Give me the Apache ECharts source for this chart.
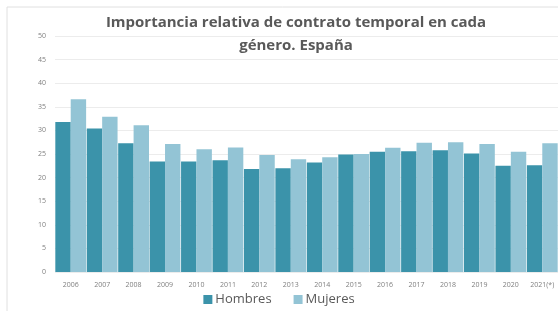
<!DOCTYPE html>
<html>
<head>
<meta charset="utf-8">
<script src="https://cdn.jsdelivr.net/npm/echarts@6/dist/echarts.min.js"></script>
<style>
  html, body { margin: 0; padding: 0; background: #fff; }
  #chart { width: 558px; height: 311px; }
</style>
</head>
<body>
<div id="chart"></div>
<script>
  // datos
  const years = ['2006', '2007', '2008', '2009', '2010', '2011', '2012', '2013',
    '2014', '2015', '2016', '2017', '2018', '2019', '2020', '2021(*)']
  const hombres = [31.8, 30.4, 27.3, 23.4, 23.4, 23.7, 21.8, 22.0,
    23.2, 24.9, 25.5, 25.6, 25.8, 25.1, 22.5, 22.6]
  const mujeres = [36.6, 32.9, 31.1, 27.1, 26.0, 26.4, 24.8, 23.9,
    24.3, 25.0, 26.3, 27.4, 27.5, 27.1, 25.5, 27.3]

  const chart = echarts.init(document.getElementById('chart'))
  const option = {
    animation: false,
    title: {
      text: 'Importancia relativa de contrato temporal en cada\ngénero. España',
      left: 291,
      top: 6,
      textAlign: 'center',
      textStyle: {
        fontFamily: 'Open Sans',
        fontSize: 15,
        fontWeight: 'bold',
        color: '#595959',
        lineHeight: 23
      }
    },
    graphic: [{
      type: 'polyline',
      shape: { points: [[7, 311], [7, 7], [558, 7]] },
      style: { stroke: '#e0e0e0', lineWidth: 1, fill: null }
    }],
    legend: {
      data: ['Hombres', 'Mujeres'],
      bottom: 0,
      left: 'center',
      itemWidth: 9,
      itemHeight: 9,
      itemGap: 22,
      icon: 'rect',
      textStyle: { fontFamily: 'Open Sans', fontSize: 13, color: '#595959', padding: [0, 0, 0, -2] }
    },
    grid: { left: 55, top: 36, width: 507, height: 236 },
    xAxis: {
      type: 'category',
      data: years,
      axisLine: { show: false },
      axisTick: { show: false },
      axisLabel: { fontFamily: 'Open Sans', fontSize: 7, color: '#7f7f7f', margin: 9 }
    },
    yAxis: {
      type: 'value',
      min: 0,
      max: 50,
      interval: 5,
      axisLabel: { fontFamily: 'Open Sans', fontSize: 7, color: '#7f7f7f', margin: 9 },
      splitLine: { lineStyle: { color: '#ececec' } }
    },
    series: [
      {
        name: 'Hombres',
        type: 'bar',
        data: hombres,
        barGap: '0%',
        barCategoryGap: '2%',
        itemStyle: { color: '#3b93aa' }
      },
      {
        name: 'Mujeres',
        type: 'bar',
        data: mujeres,
        itemStyle: { color: '#93c4d5' }
      }
    ]
  }
  chart.setOption(option)
</script>
</body>
</html>
